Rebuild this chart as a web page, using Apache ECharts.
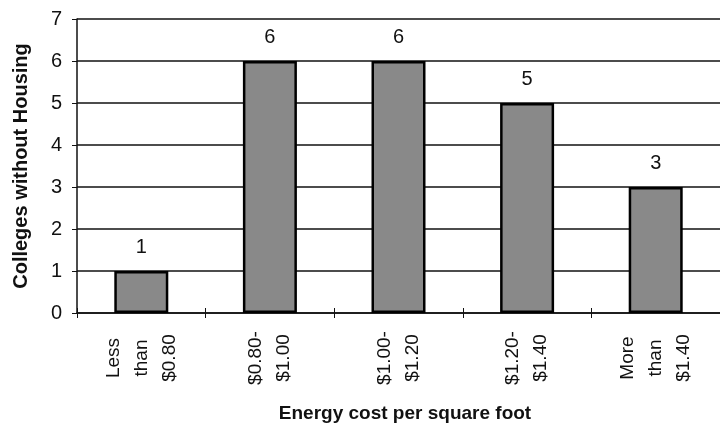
<!DOCTYPE html>
<html>
<head>
<meta charset="utf-8">
<script src="https://cdn.jsdelivr.net/npm/echarts@6/dist/echarts.min.js"></script>
<style>html,body{margin:0;padding:0;background:#fff;}#c{width:720px;height:424px;}</style>
</head>
<body>
<div id="c"></div>
<script>
var categories = ['Less\nthan\n$0.80', '$0.80-\n$1.00', '$1.00-\n$1.20', '$1.20-\n$1.40', 'More\nthan\n$1.40'];
var values = [1, 6, 6, 5, 3];
var yTicks = [0, 1, 2, 3, 4, 5, 6, 7];

var chart = echarts.init(document.getElementById('c'));
var font = 'Liberation Sans, Arial, sans-serif';
chart.setOption({
  animation: false,
  backgroundColor: '#fff',
  title: {
    text: 'Energy cost per square foot',
    left: 400, top: 399,
    textAlign: 'center',
    textStyle: {fontFamily: font, fontSize: 19, fontWeight: 'bold', color: '#111'}
  },
  grid: {left: 77, top: 19, width: 654, height: 294},
  xAxis: [{
    type: 'category',
    data: categories,
    axisLine: {lineStyle: {color: '#111', width: 1.5}},
    axisTick: {show: true, inside: false, length: 5, lineStyle: {color: '#111'}},
    axisLabel: {
      rotate: 90, align: 'center', verticalAlign: 'middle', margin: 45,
      lineHeight: 28, fontFamily: font, fontSize: 19, color: '#111'
    }
  }, {
    type: 'category',
    data: categories,
    position: 'bottom',
    axisLine: {show: false},
    axisTick: {show: true, inside: true, length: 5, lineStyle: {color: '#111'}},
    axisLabel: {show: false}
  }],
  yAxis: {
    type: 'value', min: 0, max: 7, interval: 1,
    name: 'Colleges without Housing',
    nameLocation: 'middle', nameGap: 46,
    nameTextStyle: {fontFamily: font, fontSize: 20, fontWeight: 'bold', color: '#111'},
    axisLine: {show: true, lineStyle: {color: '#111', width: 1.5}},
    axisTick: {show: true, length: 5, lineStyle: {color: '#111'}},
    axisLabel: {
      fontFamily: font, fontSize: 20, color: '#111', margin: 15,
      formatter: function (v) { return yTicks.indexOf(v) >= 0 ? String(v) : ''; }
    },
    splitLine: {lineStyle: {color: '#111', width: 1.5}}
  },
  series: [{
    type: 'bar',
    data: values,
    barWidth: 54,
    itemStyle: {color: '#898989', borderColor: '#000', borderWidth: 2.5},
    label: {show: true, position: 'top', distance: 14, fontFamily: font, fontSize: 20, color: '#111'}
  }]
});
</script>
</body>
</html>
